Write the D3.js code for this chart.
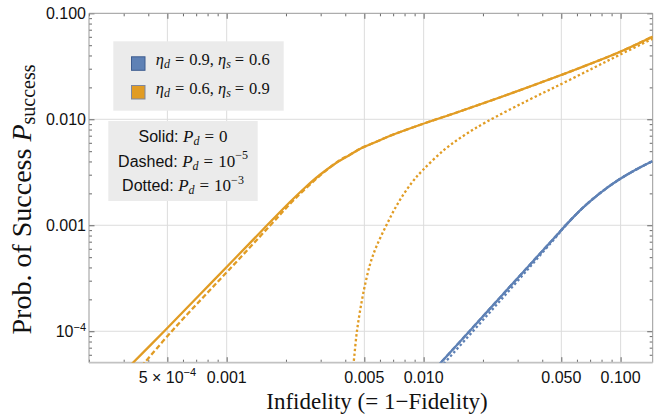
<!DOCTYPE html>
<html>
<head>
<meta charset="utf-8">
<script src="https://cdn.jsdelivr.net/npm/d3@7"></script>
<style>
  html, body { margin: 0; padding: 0; background: #ffffff; }
  svg { display: block; }
</style>
</head>
<body>
<svg id="chart" width="654" height="417"></svg>
<script>
// Probability of success vs. infidelity for two efficiency settings
// (eta_d, eta_s) and three dark-count probabilities P_d.

// eta_d = 0.6, eta_s = 0.9 (orange)
const orangeSolidInfid = [3.218e-4, 4.845e-4, 7.292e-4, 1.098e-3, 1.559e-3, 2.089e-3, 2.488e-3, 2.966e-3, 3.534e-3, 4.21e-3, 4.845e-3, 5.64e-3, 6.721e-3, 9.543e-3, 0.01523, 0.02431, 0.03879, 0.0619, 0.09883, 0.1459];
const orangeSolidProb  = [4.694e-5, 1.011e-4, 2.21e-4, 4.831e-4, 9.47e-4, 1.648e-3, 2.248e-3, 2.982e-3, 3.787e-3, 4.605e-3, 5.361e-3, 6.04e-3, 6.958e-3, 8.835e-3, 0.01185, 0.01606, 0.02201, 0.03048, 0.04314, 0.0604];

const orangeDashedInfid = [3.694e-4, 3.867e-4, 5.24e-4, 7.379e-4, 1.026e-3, 1.659e-3, 2.194e-3, 3.001e-3, 3.768e-3, 4.21e-3, 4.845e-3, 5.64e-3, 6.721e-3, 9.543e-3, 0.01523, 0.02431, 0.03879, 0.0619, 0.09883, 0.1459];
const orangeDashedProb  = [4.684e-5, 5.166e-5, 9.91e-5, 1.974e-4, 3.787e-4, 9.91e-4, 1.733e-3, 2.982e-3, 4.13e-3, 4.605e-3, 5.361e-3, 6.04e-3, 6.958e-3, 8.835e-3, 0.01185, 0.01606, 0.02201, 0.03048, 0.04314, 0.0604];

const orangeDottedInfid = [4.336e-3, 4.413e-3, 4.586e-3, 4.829e-3, 5.06e-3, 5.363e-3, 5.752e-3, 6.467e-3, 7.405e-3, 8.66e-3, 9.917e-3, 0.01278, 0.01615, 0.02081, 0.0332, 0.0498, 0.0724, 0.0992, 0.146];
const orangeDottedProb  = [3.87e-5, 5.10e-5, 1.006e-4, 1.838e-4, 2.836e-4, 4.381e-4, 6.28e-4, 1.0e-3, 1.612e-3, 2.489e-3, 3.323e-3, 5.189e-3, 7.11e-3, 9.43e-3, 0.01482, 0.02144, 0.03035, 0.04069, 0.0578];

// eta_d = 0.9, eta_s = 0.6 (blue)
const blueSolidInfid = [0.01164, 0.01713, 0.02431, 0.03452, 0.04624, 0.05258, 0.0619, 0.0721, 0.08492, 0.09917, 0.1192, 0.1448];
const blueSolidProb  = [4.585e-5, 1.006e-4, 2.062e-4, 4.221e-4, 7.67e-4, 9.98e-4, 1.367e-3, 1.763e-3, 2.244e-3, 2.728e-3, 3.338e-3, 4.016e-3];

const blueDashedInfid = [0.01164, 0.01713, 0.02431, 0.03452, 0.04624, 0.05258, 0.0619, 0.0721, 0.08492, 0.09917, 0.1192, 0.1448];
const blueDashedProb  = [4.585e-5, 1.006e-4, 2.062e-4, 4.221e-4, 7.67e-4, 9.98e-4, 1.367e-3, 1.763e-3, 2.244e-3, 2.728e-3, 3.338e-3, 4.016e-3];

const blueDottedInfid = [0.0122, 0.01784, 0.02518, 0.03533, 0.04677, 0.05258, 0.0619, 0.0721, 0.08492, 0.09917, 0.1192, 0.1448];
const blueDottedProb  = [4.585e-5, 1.006e-4, 2.062e-4, 4.221e-4, 7.67e-4, 9.98e-4, 1.367e-3, 1.763e-3, 2.244e-3, 2.728e-3, 3.338e-3, 4.016e-3];

// Axis ticks and labels ([base, superscript])
const xMajorTicks = [5e-4, 1e-3, 5e-3, 1e-2, 5e-2, 1e-1];
const xTickLabels = [["5 × 10", "−4"], ["0.001", ""], ["0.005", ""], ["0.010", ""], ["0.050", ""], ["0.100", ""]];
const yMajorTicks = [1e-4, 1e-3, 1e-2, 1e-1];
const yTickLabels = [["10", "−4"], ["0.001", ""], ["0.010", ""], ["0.100", ""]];

// Legend
const legendLabels = [
  { eta_d: "0.9", eta_s: "0.6", color: "#5e81b5", edge: "#3d5c8f" },
  { eta_d: "0.6", eta_s: "0.9", color: "#e19c24", edge: "#7d87a0" }
];
const styleNames = ["Solid:", "Dashed:", "Dotted:"];
const styleValues = [["0", ""], ["10", "−5"], ["10", "−3"]];

const BLUE = "#5e81b5", ORANGE = "#e19c24";
const SERIF = "'Liberation Serif', 'DejaVu Serif', serif";
const SANS = "'Liberation Sans', Arial, sans-serif";

const svg = d3.select("#chart");
const plotLeft = 89, plotRight = 652.7, plotTop = 13.3, plotBottom = 362.7;

const x = d3.scaleLog().domain([2e-4, 0.1455]).range([plotLeft, plotRight]);
const y = d3.scaleLog().domain([5.05e-5, 0.1]).range([plotBottom, plotTop]);

// Grid
const grid = svg.append("g").attr("stroke", "#dcdcdc").attr("stroke-width", 1);
grid.selectAll("line.v").data(xMajorTicks).join("line")
  .attr("x1", d => x(d)).attr("x2", d => x(d)).attr("y1", plotTop).attr("y2", plotBottom);
grid.selectAll("line.h").data(yMajorTicks.filter(d => d < 0.1)).join("line")
  .attr("y1", d => y(d)).attr("y2", d => y(d)).attr("x1", plotLeft).attr("x2", plotRight);

// Minor tick values straight from the log scales
const xMinor = x.ticks().filter(t => !xMajorTicks.some(m => Math.abs(m - t) / m < 1e-6));
const yMinor = y.ticks().filter(t => !yMajorTicks.some(m => Math.abs(m - t) / m < 1e-6));

function tickAxis(axisFn, scale, values, size, transform) {
  const g = svg.append("g").attr("transform", transform)
    .call(axisFn(scale).tickValues(values).tickSize(-size).tickFormat(""));
  g.select(".domain").remove();
  g.selectAll(".tick line").attr("stroke", "#444").attr("stroke-width", 0.8);
  return g;
}
tickAxis(d3.axisBottom, x, xMinor, 3, `translate(0,${plotBottom})`);
tickAxis(d3.axisBottom, x, xMajorTicks, 5.5, `translate(0,${plotBottom})`);
tickAxis(d3.axisTop, x, xMinor, 3, `translate(0,${plotTop})`);
tickAxis(d3.axisTop, x, xMajorTicks, 5.5, `translate(0,${plotTop})`);
tickAxis(d3.axisLeft, y, yMinor, 3, `translate(${plotLeft},0)`);
tickAxis(d3.axisLeft, y, yMajorTicks, 5.5, `translate(${plotLeft},0)`);
tickAxis(d3.axisRight, y, yMinor, 3, `translate(${plotRight},0)`);
tickAxis(d3.axisRight, y, yMajorTicks, 5.5, `translate(${plotRight},0)`);

// Frame
const frame = svg.append("g").attr("fill", "none");
frame.append("line").attr("x1", plotLeft).attr("x2", plotRight).attr("y1", plotTop).attr("y2", plotTop).attr("stroke", "#999");
frame.append("line").attr("x1", plotLeft).attr("x2", plotLeft).attr("y1", plotTop).attr("y2", plotBottom).attr("stroke", "#999");
frame.append("line").attr("x1", plotRight).attr("x2", plotRight).attr("y1", plotTop).attr("y2", plotBottom).attr("stroke", "#999");
frame.append("line").attr("x1", plotLeft).attr("x2", plotRight).attr("y1", plotBottom).attr("y2", plotBottom).attr("stroke", "#c2c2c2").attr("stroke-width", 1.8);

// Tick labels
const xl = svg.append("g").attr("font-family", SANS).attr("font-size", 16).attr("fill", "#111");
xMajorTicks.forEach((v, i) => {
  const t = xl.append("text").attr("x", x(v)).attr("y", 382.7).attr("text-anchor", "middle");
  t.append("tspan").text(xTickLabels[i][0]);
  if (xTickLabels[i][1]) t.append("tspan").attr("font-size", 11).attr("dy", -6.5).text(xTickLabels[i][1]);
});
const yl = svg.append("g").attr("font-family", SANS).attr("font-size", 16).attr("fill", "#111");
yMajorTicks.forEach((v, i) => {
  const t = yl.append("text").attr("x", 86).attr("y", y(v) + 5.8).attr("text-anchor", "end");
  t.append("tspan").text(yTickLabels[i][0]);
  if (yTickLabels[i][1]) t.append("tspan").attr("font-size", 11).attr("dy", -6.5).text(yTickLabels[i][1]);
});

// Axis titles
svg.append("text").attr("x", 377).attr("y", 409.3).attr("text-anchor", "middle")
  .attr("font-family", SERIF).attr("font-size", 23).attr("fill", "#111")
  .text("Infidelity (= 1−Fidelity)");
const yt = svg.append("text").attr("transform", "translate(31,199.5) rotate(-90)")
  .attr("text-anchor", "middle").attr("font-family", SERIF).attr("font-size", 28).attr("fill", "#111");
yt.append("tspan").text("Prob. of Success ");
yt.append("tspan").attr("font-style", "italic").text("P");
yt.append("tspan").attr("font-size", 20).attr("dy", 4).text("success");

// Curves
svg.append("clipPath").attr("id", "plotClip").append("rect")
  .attr("x", plotLeft).attr("y", plotTop).attr("width", plotRight - plotLeft).attr("height", plotBottom - plotTop);
const plot = svg.append("g").attr("clip-path", "url(#plotClip)");

const line = d3.line().x(d => x(d[0])).y(d => y(d[1])).curve(d3.curveCatmullRom.alpha(0.5));
const series = [
  { xs: blueDottedInfid, ys: blueDottedProb, color: BLUE, dash: "2.4 2.4" },
  { xs: blueDashedInfid, ys: blueDashedProb, color: BLUE, dash: "5 2.6" },
  { xs: blueSolidInfid, ys: blueSolidProb, color: BLUE, dash: null },
  { xs: orangeDottedInfid, ys: orangeDottedProb, color: ORANGE, dash: "2.4 2.4" },
  { xs: orangeDashedInfid, ys: orangeDashedProb, color: ORANGE, dash: "5 2.6" },
  { xs: orangeSolidInfid, ys: orangeSolidProb, color: ORANGE, dash: null }
];
series.forEach(s => {
  plot.append("path")
    .datum(s.xs.map((v, i) => [v, s.ys[i]]))
    .attr("d", line)
    .attr("fill", "none")
    .attr("stroke", s.color)
    .attr("stroke-width", 2.3)
    .attr("stroke-dasharray", s.dash);
});

// Legend: parameter sets
const lg1 = svg.append("g");
lg1.append("rect").attr("x", 113.3).attr("y", 41.3).attr("width", 170.4).attr("height", 69.4).attr("fill", "#ebebeb");
legendLabels.forEach((d, i) => {
  const yy = 56.3 + i * 28.7;
  lg1.append("rect").attr("x", 131.5).attr("y", yy + 0.5).attr("width", 13.5).attr("height", 13.5)
    .attr("fill", d.color).attr("stroke", d.edge).attr("stroke-width", 1);
  const t = lg1.append("text").attr("x", 155.7).attr("y", 65 + i * 29.3)
    .attr("font-family", SERIF).attr("font-size", 16.5).attr("fill", "#111");
  t.append("tspan").attr("font-style", "italic").text("η");
  t.append("tspan").attr("font-style", "italic").attr("font-size", 12).attr("dy", 3).text("d");
  t.append("tspan").attr("dy", -3).attr("dx", 5).text("=");
  t.append("tspan").attr("dx", 5).text(d.eta_d + ",");
  t.append("tspan").attr("dx", 4).attr("font-style", "italic").text("η");
  t.append("tspan").attr("font-style", "italic").attr("font-size", 12).attr("dy", 3).text("s");
  t.append("tspan").attr("dy", -3).attr("dx", 4).text("=");
  t.append("tspan").attr("dx", 5).text(d.eta_s);
});

// Legend: line styles
const lg2 = svg.append("g");
lg2.append("rect").attr("x", 108.3).attr("y", 121).attr("width", 149.4).attr("height", 80).attr("fill", "#ebebeb");
styleNames.forEach((name, i) => {
  const t = lg2.append("text").attr("x", 183).attr("y", [141.5, 166.5, 191][i])
    .attr("text-anchor", "middle").attr("font-size", 16).attr("fill", "#111");
  t.append("tspan").attr("font-family", SANS).text(name + " ");
  t.append("tspan").attr("font-family", SERIF).attr("font-style", "italic").attr("font-size", 17).text("P");
  t.append("tspan").attr("font-family", SERIF).attr("font-style", "italic").attr("font-size", 12).attr("dy", 3).text("d");
  t.append("tspan").attr("font-family", SERIF).attr("font-size", 17).attr("dy", -3).attr("dx", 5).text("=");
  t.append("tspan").attr("font-family", SERIF).attr("font-size", 17).attr("dx", 5).text(styleValues[i][0]);
  if (styleValues[i][1]) t.append("tspan").attr("font-family", SERIF).attr("font-size", 12).attr("dy", -7.5).text(styleValues[i][1]);
});
</script>
</body>
</html>
